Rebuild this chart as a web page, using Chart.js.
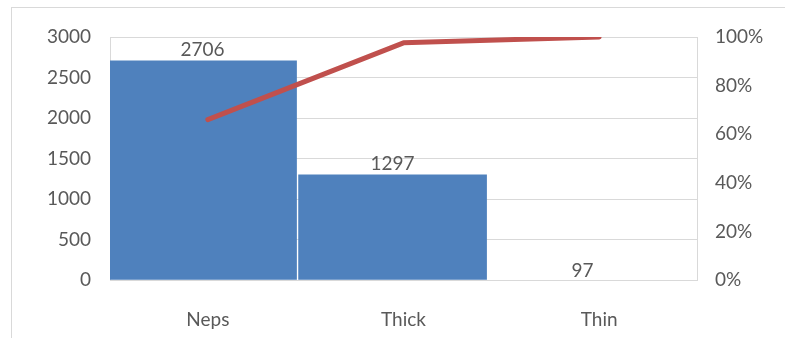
<!DOCTYPE html>
<html>
<head>
<meta charset="utf-8">
<script src="https://cdn.jsdelivr.net/npm/chart.js@4/dist/chart.umd.min.js"></script>
<style>
  html, body { margin: 0; padding: 0; background: #fff; }
  canvas { display: block; }
</style>
</head>
<body>
<canvas id="context" width="785" height="338"></canvas>
<script>
// chart data
const categories = ['Neps', 'Thick', 'Thin'];
const defectCounts = [2706, 1297, 97];
const cumulativePercent = [66.0, 97.6, 100];
const leftTicks = [0, 500, 1000, 1500, 2000, 2500, 3000];
const rightTicks = [0, 20, 40, 60, 80, 100];

const textColour = '#595959';
const gridColour = '#d9d9d9';
const fontFamily = 'Lato, "Open Sans", sans-serif';

/**
 * Draws the value above each bar, like Excel data labels
 */
const barValueLabels = {
  id: 'barValueLabels',
  afterDatasetsDraw(chart) {
    const meta = chart.getDatasetMeta(1);
    const bottom = chart.chartArea.bottom;
    const ctx = chart.ctx;
    ctx.save();
    ctx.font = '19px ' + fontFamily;
    ctx.fillStyle = textColour;
    ctx.textAlign = 'center';
    ctx.textBaseline = 'alphabetic';
    meta.data.forEach((bar, i) => {
      // the last bar is not drawn in the reference, its label sits on the axis
      const y = i === 2 ? bottom - 3 : bar.y - 5;
      ctx.fillText(String(defectCounts[i]), bar.x, y);
    });
    ctx.restore();
  }
};

/**
 * Light frame round the whole chart
 */
const outerFrame = {
  id: 'outerFrame',
  beforeDraw(chart) {
    const ctx = chart.ctx;
    ctx.save();
    ctx.strokeStyle = gridColour;
    ctx.lineWidth = 1;
    ctx.strokeRect(11.5, 7.5, 900, 400);
    ctx.restore();
  }
};

const data = {
  labels: categories,
  datasets: [
    {
      type: 'line',
      label: 'Cumulative %',
      data: cumulativePercent,
      xAxisID: 'x',
      yAxisID: 'yRight',
      borderColor: '#C0504D',
      borderWidth: 5,
      borderCapStyle: 'round',
      borderJoinStyle: 'round',
      pointRadius: 0,
      tension: 0,
      order: 0
    },
    {
      type: 'bar',
      label: 'Count',
      data: defectCounts.map((v, i) => ({ x: i, y: v })),
      xAxisID: 'xBar',
      yAxisID: 'yLeft',
      backgroundColor: ['#4F81BD', '#4F81BD', 'rgba(0,0,0,0)'],
      grouped: false,
      barThickness: 188,
      order: 1
    }
  ]
};

new Chart(document.getElementById('context'), {
  data,
  plugins: [outerFrame, barValueLabels],
  options: {
    responsive: false,
    animation: false,
    layout: { padding: { top: 37, bottom: 0, left: 0, right: 0 } },
    plugins: {
      legend: { display: false },
      tooltip: { enabled: false }
    },
    scales: {
      x: {
        offset: true,
        grid: { display: false, offset: true },
        border: { display: false },
        ticks: {
          color: textColour,
          font: { family: fontFamily, size: 19 },
          padding: 20
        },
        afterFit(scale) { scale.height = 58; }
      },
      // the bars in the reference sit on a slightly narrower pitch than the line
      xBar: {
        type: 'linear',
        display: false,
        offset: false,
        grid: { offset: false },
        min: -0.487,
        max: 2.602
      },
      yLeft: {
        position: 'left',
        min: 0,
        max: 3000,
        afterBuildTicks(scale) { scale.ticks = leftTicks.map(v => ({ value: v })); },
        grid: { color: gridColour, drawTicks: false, lineWidth: 1 },
        border: { display: true, color: gridColour },
        ticks: {
          color: textColour,
          font: { family: fontFamily, size: 19 },
          padding: 19,
          callback: v => String(v)
        },
        afterFit(scale) { scale.width = 110; }
      },
      yRight: {
        position: 'right',
        min: 0,
        max: 100,
        afterBuildTicks(scale) { scale.ticks = rightTicks.map(v => ({ value: v })); },
        grid: { display: false, drawTicks: false },
        border: { display: true, color: gridColour },
        ticks: {
          color: textColour,
          font: { family: fontFamily, size: 19 },
          padding: 18,
          callback: v => v + '%'
        },
        afterFit(scale) { scale.width = 88; }
      }
    }
  }
});
</script>
</body>
</html>
